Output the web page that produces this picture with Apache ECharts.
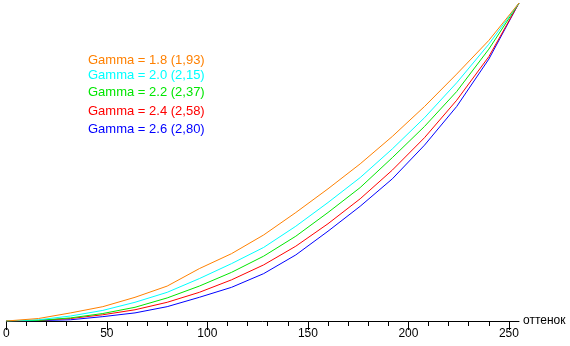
<!DOCTYPE html>
<html lang="ru">
<head>
    <meta charset="UTF-8">
    <title>Gamma</title>
    <style>
        html, body { margin: 0; padding: 0; background: #fff; }
        #chart { width: 570px; height: 346px; }
    </style>
</head>
<body>
<div id="chart"></div>
<script src="https://cdn.jsdelivr.net/npm/echarts@6/dist/echarts.min.js"></script>
<script>
    // уровни входного сигнала
    var levels = [0, 16, 32, 48, 64, 80, 96, 112, 128, 144, 160, 176, 192, 208, 224, 240, 255]

    var gamma18 = [0, 2, 6.5, 11.5, 19, 28, 42, 54, 69, 87, 106, 126, 148, 172, 198, 225, 255]
    var gamma20 = [0, 1, 4, 8.5, 15, 23, 34, 46, 59, 76, 95, 115, 138, 163, 191, 222, 255]
    var gamma22 = [0, 0.5, 2.5, 6, 11, 18.5, 28, 39, 52, 68, 87, 107, 131, 156, 184, 218, 255]
    var gamma24 = [0, 0.5, 2, 5, 9, 15, 23, 33, 45, 60, 78, 98, 121, 147, 177, 212, 255]
    var gamma26 = [0, 0.3, 1, 3.5, 6.5, 11.5, 19, 27, 38, 53, 72, 92, 114, 141, 172, 210, 255]

    var seriesNames = ['Gamma = 1.8 (1,93)', 'Gamma = 2.0 (2,15)', 'Gamma = 2.2 (2,37)', 'Gamma = 2.4 (2,58)', 'Gamma = 2.6 (2,80)']
    var seriesData = [gamma18, gamma20, gamma22, gamma24, gamma26]
    var colors = ['#ff8000', '#00ffff', '#00e600', '#ff0000', '#0000ff']

    var majorTicks = [0, 50, 100, 150, 200, 250]
    var minorTicks = [10, 20, 30, 40, 60, 70, 80, 90, 110, 120, 130, 140, 160, 170, 180, 190, 210, 220, 230, 240]

    var labelY = [60.5, 75.5, 92.5, 111.5, 130]

    var font = '"Liberation Sans", Arial, sans-serif'

    var chart = echarts.init(document.getElementById('chart'))

    var series = seriesData.map(function (vals, i) {
        return {
            name: seriesNames[i],
            type: 'line',
            showSymbol: false,
            symbol: 'none',
            animation: false,
            xAxisIndex: 0,
            lineStyle: { width: 1, color: colors[i] },
            itemStyle: { color: colors[i] },
            data: levels.map(function (x, j) { return [x, vals[j]] })
        }
    }).reverse()

    chart.setOption({
        animation: false,
        grid: { left: 4.5, right: 51, top: 3, bottom: 25, containLabel: false },
        graphic: seriesNames.map(function (name, i) {
            return {
                type: 'text',
                left: 88,
                top: labelY[i] - 7,
                style: { text: name, fill: colors[i], font: '13px ' + font }
            }
        }),
        xAxis: [
            {
                type: 'value',
                min: 0,
                max: 255,
                position: 'bottom',
                name: 'оттенок',
                nameLocation: 'end',
                nameGap: 4,
                nameTextStyle: { color: '#000', fontSize: 12, fontFamily: font },
                axisLine: { show: true, onZero: false, lineStyle: { color: '#000', width: 1 } },
                axisTick: { show: true, length: 9, lineStyle: { color: '#000' }, customValues: majorTicks },
                axisLabel: { show: true, color: '#000', fontSize: 12, fontFamily: font, margin: 7, customValues: majorTicks },
                splitLine: { show: false }
            },
            {
                type: 'value',
                min: 0,
                max: 255,
                position: 'bottom',
                axisLine: { show: false },
                axisTick: { show: true, length: 5, lineStyle: { color: '#000' }, customValues: minorTicks },
                axisLabel: { show: false },
                splitLine: { show: false }
            }
        ],
        yAxis: {
            type: 'value',
            min: 0,
            max: 255,
            show: false
        },
        series: series
    })
</script>
</body>
</html>
